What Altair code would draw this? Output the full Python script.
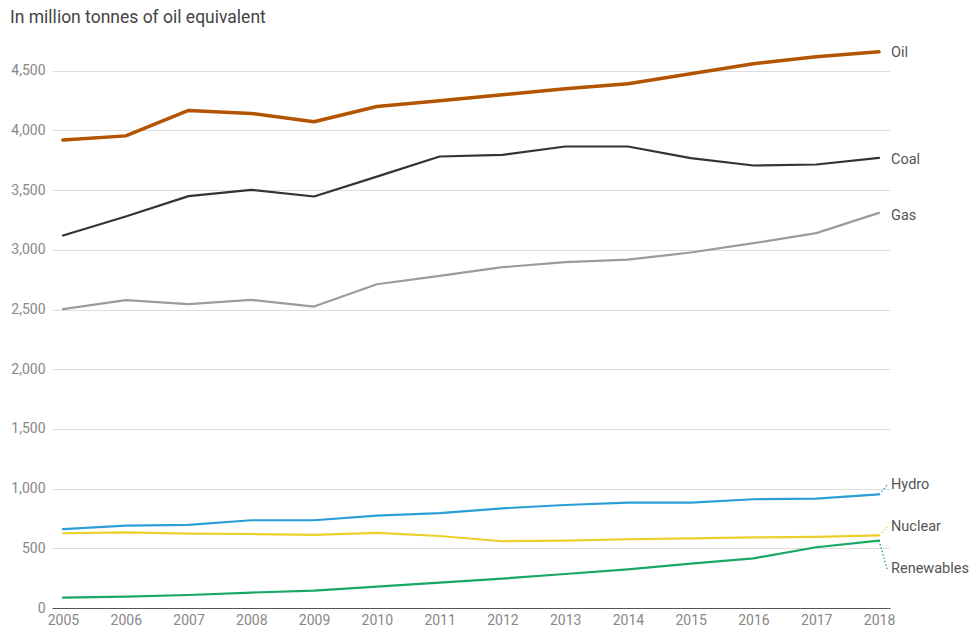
import altair as alt
import pandas as pd

years = list(range(2005, 2019))
series_names = ["Oil", "Coal", "Gas", "Hydro", "Nuclear", "Renewables"]
oil = [3920, 3955, 4168, 4143, 4073, 4201, 4249, 4299, 4349, 4391, 4475, 4559, 4617, 4659]
coal = [3120, 3279, 3450, 3503, 3447, 3614, 3782, 3796, 3866, 3866, 3768, 3707, 3715, 3771]
gas = [2503, 2579, 2545, 2581, 2525, 2712, 2782, 2855, 2897, 2919, 2978, 3056, 3140, 3310]
hydro = [660, 690, 696, 735, 735, 774, 794, 835, 863, 883, 883, 911, 916, 952]
nuclear = [626, 634, 623, 620, 612, 629, 603, 559, 564, 576, 584, 592, 595, 609]
renewables = [87, 95, 109, 129, 146, 179, 212, 246, 285, 324, 372, 416, 509, 564]
# where each end label sits (in data units)
label_values = [4651, 3754, 3285, 1031, 679, 327]
colors = ["#b35500", "#333333", "#9b9b9b", "#2a9fd6", "#ecd02a", "#17a865"]
widths = [3.5, 2.2, 2.2, 2.2, 2.2, 2.2]

all_values = [oil, coal, gas, hydro, nuclear, renewables]
rows = []
for name, vals in zip(series_names, all_values):
    for yr, v in zip(years, vals):
        rows.append({"year": yr, "value": v, "series": name})
df = pd.DataFrame(rows)

lab = pd.DataFrame({
    "series": series_names,
    "year": [years[-1]] * 6,
    "last": [v[-1] for v in all_values],
    "labelv": label_values,
    "x2": [years[-1] + 0.13] * 6,
})

xscale = alt.Scale(domain=[2004.825, 2018.175], nice=False, zero=False)
yscale = alt.Scale(domain=[0, 4800], nice=False)
color = alt.Color("series:N", scale=alt.Scale(domain=series_names, range=colors), legend=None)

base_x = alt.X("year:Q", scale=xscale,
               axis=alt.Axis(values=years, format="d", title=None, ticks=False, grid=False,
                             domainColor="#555555", labelColor="#888888", labelFontSize=14,
                             labelPadding=5, labelFont="Roboto", labelFlush=False))
base_y = alt.Y("value:Q", scale=yscale,
               axis=alt.Axis(values=list(range(0, 5000, 500)), format=",d", title=None, ticks=False,
                             domain=False, gridColor="#dddddd", labelColor="#888888",
                             labelFontSize=14, labelPadding=7, labelFont="Roboto"))

layers = []
for name, w in zip(series_names, widths):
    layers.append(
        alt.Chart(df).transform_filter(alt.datum.series == name)
        .mark_line(strokeWidth=w, strokeJoin="round", strokeCap="round")
        .encode(x=base_x, y=base_y, color=color)
    )

leaders = alt.Chart(lab).transform_filter(
    "datum.series == 'Hydro' || datum.series == 'Nuclear' || datum.series == 'Renewables'"
).mark_rule(strokeDash=[1.5, 2], strokeWidth=1.3).encode(
    x=alt.X("year:Q", scale=xscale), x2="x2:Q",
    y=alt.Y("last:Q", scale=yscale), y2="labelv:Q", color=color
)

texts = alt.Chart(lab).mark_text(align="left", baseline="middle", dx=12, fontSize=14.5,
                                 font="Roboto", color="#555555").encode(
    x=alt.X("year:Q", scale=xscale), y=alt.Y("labelv:Q", scale=yscale), text="series:N"
)

chart = alt.layer(*layers, leaders, texts).properties(
    width=838, height=573,
    padding={"left": 52, "top": 35, "right": 79, "bottom": 22},
    autosize=alt.AutoSizeParams(type="none"),
    background="white",
    title=alt.TitleParams("In million tonnes of oil equivalent", anchor="start", frame="group",
                          dx=-42, offset=9, fontSize=17.5, font="Roboto", fontWeight="normal",
                          color="#444444"),
).configure_view(stroke=None)

chart.save("out.html", embed_options={"renderer": "svg", "actions": False})
